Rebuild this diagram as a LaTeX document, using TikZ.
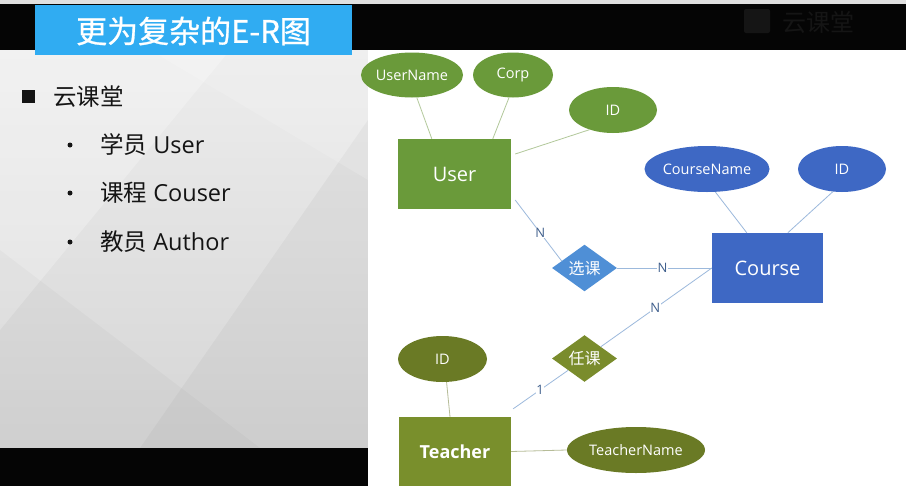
\documentclass[tikz,border=0pt]{standalone}
\usepackage{fontspec}
\setmainfont{Open Sans}
\newfontfamily\cjk{Noto Sans CJK SC}
\newfontfamily\cjkt[FakeBold=0.8]{Noto Sans CJK SC}
\usetikzlibrary{shapes.geometric,calc}
\definecolor{ugreen}{HTML}{6A9A3A}
\definecolor{cblue}{HTML}{3E68C4}
\definecolor{sblue}{HTML}{4F8FD6}
\definecolor{tolive}{HTML}{798F2C}
\definecolor{tdark}{HTML}{6A7A25}
\definecolor{rolive}{HTML}{7A8C2C}
\definecolor{titleblue}{HTML}{30ACF2}
\definecolor{gline}{HTML}{B2C89A}
\definecolor{bline}{HTML}{9CB9DC}
\definecolor{oline}{HTML}{B6BC98}
\definecolor{labblue}{HTML}{3E5E8C}
\definecolor{bgtop}{HTML}{EDEDED}
\definecolor{bgbot}{HTML}{D5D5D5}
\definecolor{ink}{HTML}{141414}
\definecolor{logoc}{HTML}{151515}
\begin{document}
\begin{tikzpicture}[x=1pt,y=-1pt,
  attr/.style={ellipse, text=white, inner sep=0pt, font=\fontsize{14.5}{16}\selectfont},
  entbox/.style={rectangle, text=white, inner sep=0pt, font=\fontsize{20}{23}\selectfont},
  relbox/.style={diamond, text=white, inner sep=0pt, minimum width=65pt, minimum height=46pt, font=\cjk\fontsize{16}{18}\selectfont},
  gl/.style={draw=gline, line width=0.8pt},
  bl/.style={draw=bline, line width=0.8pt},
  ol/.style={draw=oline, line width=0.8pt},
  lab/.style={text=labblue, fill=white, inner sep=0.6pt, font=\fontsize{13}{15}\selectfont},
  listtxt/.style={anchor=west, text=ink, inner sep=0pt, font=\fontsize{23.5}{27}\selectfont},
  dot/.style={circle, fill=ink, inner sep=0pt, minimum size=5pt}
]
\useasboundingbox (0,0) rectangle (906,501);
% backgrounds
\fill[white] (0,0) rectangle (906,501);
\fill[black!12] (0,0) rectangle (906,4);
\fill[black!98] (0,4) rectangle (906,50);
\fill[top color=bgtop, bottom color=bgbot] (0,50) rectangle (368,448);
\fill[white, opacity=0.25] (0,50) -- (230,50) -- (0,330) -- cycle;
\fill[black, opacity=0.035] (368,120) -- (368,448) -- (140,448) -- cycle;
\fill[black, opacity=0.025] (0,250) -- (260,448) -- (0,448) -- cycle;
\fill[white, opacity=0.15] (150,50) -- (368,50) -- (368,180) -- cycle;
\fill[black!98] (0,448) rectangle (368,486);
\fill[white] (368,50) rectangle (906,501);
% title
\node[fill=titleblue, minimum width=317pt, minimum height=50pt, inner sep=0pt] (title) at (193.5,30) {};
\node[text=white, font=\cjkt\fontsize{31}{35}\selectfont] (titletext) at (193.5,31) {更为复杂的E-R图};
% faint logo
\node[fill=logoc, rounded corners=2pt, minimum width=26pt, minimum height=24pt, inner sep=0pt] (logoicon) at (757,21) {};
\node[text=logoc, font=\cjk\fontsize{24}{28}\selectfont, anchor=west, inner sep=0pt] (logotext) at (782,22) {云课堂};
% left list
\node[fill=ink, minimum size=12.5pt, inner sep=0pt] (sq) at (28.5,96.5) {};
\node[listtxt, font=\cjk\fontsize{23.5}{27}\selectfont] (yk) at (53,97) {云课堂};
\node[dot] (d1) at (70,145) {};
\node[dot] (d2) at (70,193) {};
\node[dot] (d3) at (70,242) {};
\node[listtxt] (l1) at (100,145) {{\cjk 学员} User};
\node[listtxt] (l2) at (100,193) {{\cjk 课程} Couser};
\node[listtxt] (l3) at (100,242) {{\cjk 教员} Author};
% User entity
\node[entbox, fill=ugreen, minimum width=113pt, minimum height=70pt] (user) at (454.5,174) {User};
\node[attr, fill=ugreen, minimum width=88pt, minimum height=45pt] (un) at (412,75) {UserName};
\node[attr, fill=ugreen, minimum width=80pt, minimum height=45pt] (corp) at (513,75) {Corp};
\node[attr, fill=ugreen, minimum width=88pt, minimum height=46pt] (uid) at (613,110) {ID};
\draw[gl] (un.-78) -- ([xshift=34pt]user.north west);
\draw[gl] (corp.-100) -- ([xshift=95pt]user.north west);
\draw[gl] (uid.220) -- ([xshift=4pt,yshift=20pt]user.east);
% Course entity
\node[entbox, fill=cblue, minimum width=111pt, minimum height=70pt] (course) at (767.5,268) {Course};
\node[attr, fill=cblue, minimum width=94pt, minimum height=46pt] (cn) at (707,169) {CourseName};
\node[attr, fill=cblue, minimum width=88pt, minimum height=46pt] (cid) at (842,169) {ID};
\draw[bl] (cn.-70) -- ([xshift=35pt]course.north west);
\draw[bl] (cid.-112) -- ([xshift=76pt]course.north west);
% relationships
\node[relbox, fill=sblue] (xk) at (584.5,268) {选课};
\node[relbox, fill=rolive] (rk) at (584.5,358.5) {任课};
% Teacher entity
\node[entbox, fill=tolive, minimum width=112pt, minimum height=69pt, font=\bfseries\fontsize{18}{22}\selectfont] (teacher) at (455,451.5) {Teacher};
\node[attr, fill=tdark, minimum width=89pt, minimum height=46pt] (tid) at (442.5,359) {ID};
\node[attr, fill=tdark, minimum width=138pt, minimum height=46pt] (tn) at (636,450) {TeacherName};
\draw[ol] (tid.-80) -- ([xshift=-5pt]teacher.north);
\draw[ol] (teacher.east) -- (tn.west);
% relationship lines
\draw[bl] ([xshift=4pt,yshift=-26pt]user.east) -- node[lab, pos=0.54] {N} ($(xk.west)!0.3!(xk.north)$);
\draw[bl] (xk.east) -- node[lab, pos=0.48] {N} (course.west);
\draw[bl] (course.west) -- node[lab, pos=0.51] {N} ($(rk.north)!0.5!(rk.east)$);
\draw[bl] (rk.south west) -- node[lab, pos=0.51] {1} ([xshift=2pt,yshift=8pt]teacher.north east);
\end{tikzpicture}
\end{document}
